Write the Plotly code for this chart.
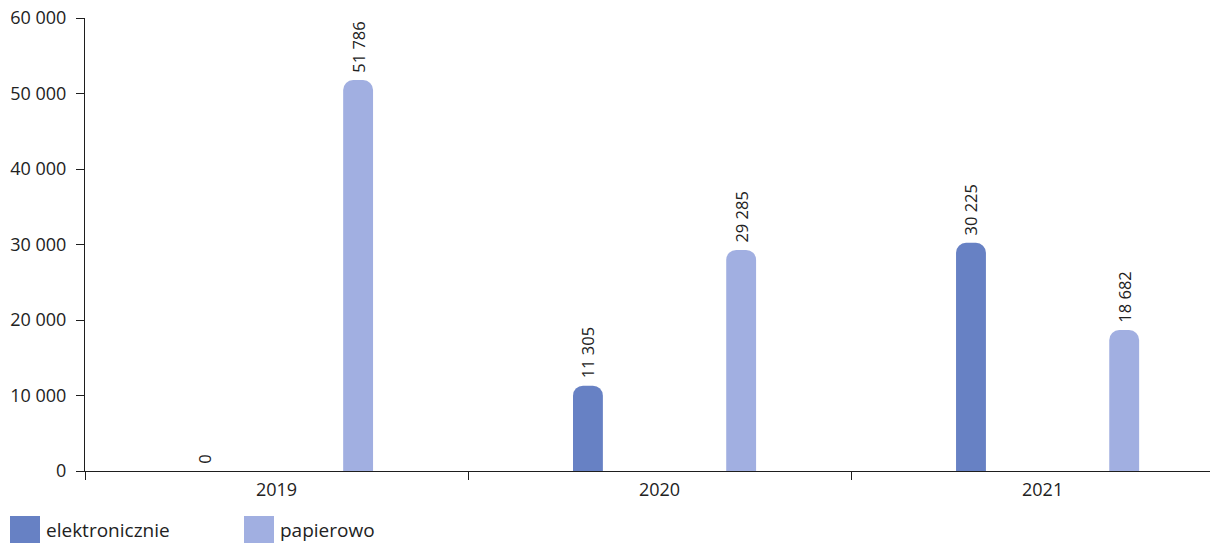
import plotly.graph_objects as go

YEARS = ['2019', '2020', '2021']
ELEKTRONICZNIE = [0, 11305, 30225]
PAPIEROWO = [51786, 29285, 18682]
SERIES_NAMES = ['elektronicznie', 'papierowo']

DARK_COLOUR = 'rgb(103, 129, 196)'
LIGHT_COLOUR = 'rgb(161, 175, 225)'
TEXT_COLOUR = 'rgb(34, 34, 34)'
FONT = 'Open Sans'

fig = go.Figure()
for name, values, colour, offset in [(SERIES_NAMES[0], ELEKTRONICZNIE, DARK_COLOUR, -0.226),
                                     (SERIES_NAMES[1], PAPIEROWO, LIGHT_COLOUR, 0.174)]:
    fig.add_trace(go.Bar(x=YEARS,
                         y=values,
                         name=name,
                         width=0.078,
                         offset=offset,
                         marker=dict(color=colour, line=dict(width=0), cornerradius=10),
                         # leading nbsp pushes the label a little off the bar top
                         text=['\u00a0' + f'{v:,}'.replace(',', ' ') for v in values],
                         textposition='outside',
                         textangle=-90,
                         constraintext='none',
                         cliponaxis=False,
                         textfont=dict(family=FONT, size=16.5, color=TEXT_COLOUR),
                         ))

fig.update_layout(barmode='overlay',
                  width=1225, height=543,
                  margin=dict(l=85, r=15, t=18, b=72, autoexpand=False),
                  plot_bgcolor='white', paper_bgcolor='white',
                  showlegend=False,
                  separators=', ',
                  font=dict(family=FONT, size=18, color=TEXT_COLOUR))

fig.update_xaxes(type='category', range=[-0.5, 2.437], automargin=False,
                 showline=True, linecolor='rgb(30,30,30)', linewidth=1,
                 ticks='outside', tickson='boundaries', ticklen=8,
                 tickcolor='rgb(30,30,30)', showgrid=False, ticklabelstandoff=2,
                 tickfont=dict(size=18, color=TEXT_COLOUR))
fig.update_yaxes(range=[0, 60000], dtick=10000, tickformat=',d', automargin=False,
                 showline=True, linecolor='rgb(30,30,30)', linewidth=1,
                 ticks='outside', ticklen=8, tickcolor='rgb(30,30,30)',
                 showgrid=False, zeroline=False, ticklabelstandoff=6,
                 tickfont=dict(size=18, color=TEXT_COLOUR))

# legend drawn by hand so the swatches can be large
for i, (name, colour) in enumerate(zip(SERIES_NAMES, [DARK_COLOUR, LIGHT_COLOUR])):
    x0 = 10 + i * 234
    fig.add_shape(type='rect', xref='paper', yref='paper',
                  x0=(x0 - 85) / 1125, x1=(x0 + 30 - 85) / 1125,
                  y0=(471 - 543) / 453, y1=(471 - 516) / 453,
                  fillcolor=colour, line=dict(width=0))
    fig.add_annotation(xref='paper', yref='paper',
                       x=(x0 + 34 - 85) / 1125, y=(471 - 530) / 453,
                       text=name, showarrow=False, xanchor='left', yanchor='middle',
                       font=dict(family=FONT, size=19, color=TEXT_COLOUR))

# drop the default page margin so the figure sits in the window corner
fig.write_html('out.html', config={'displayModeBar': False},
               post_script="document.body.style.margin='0';")
